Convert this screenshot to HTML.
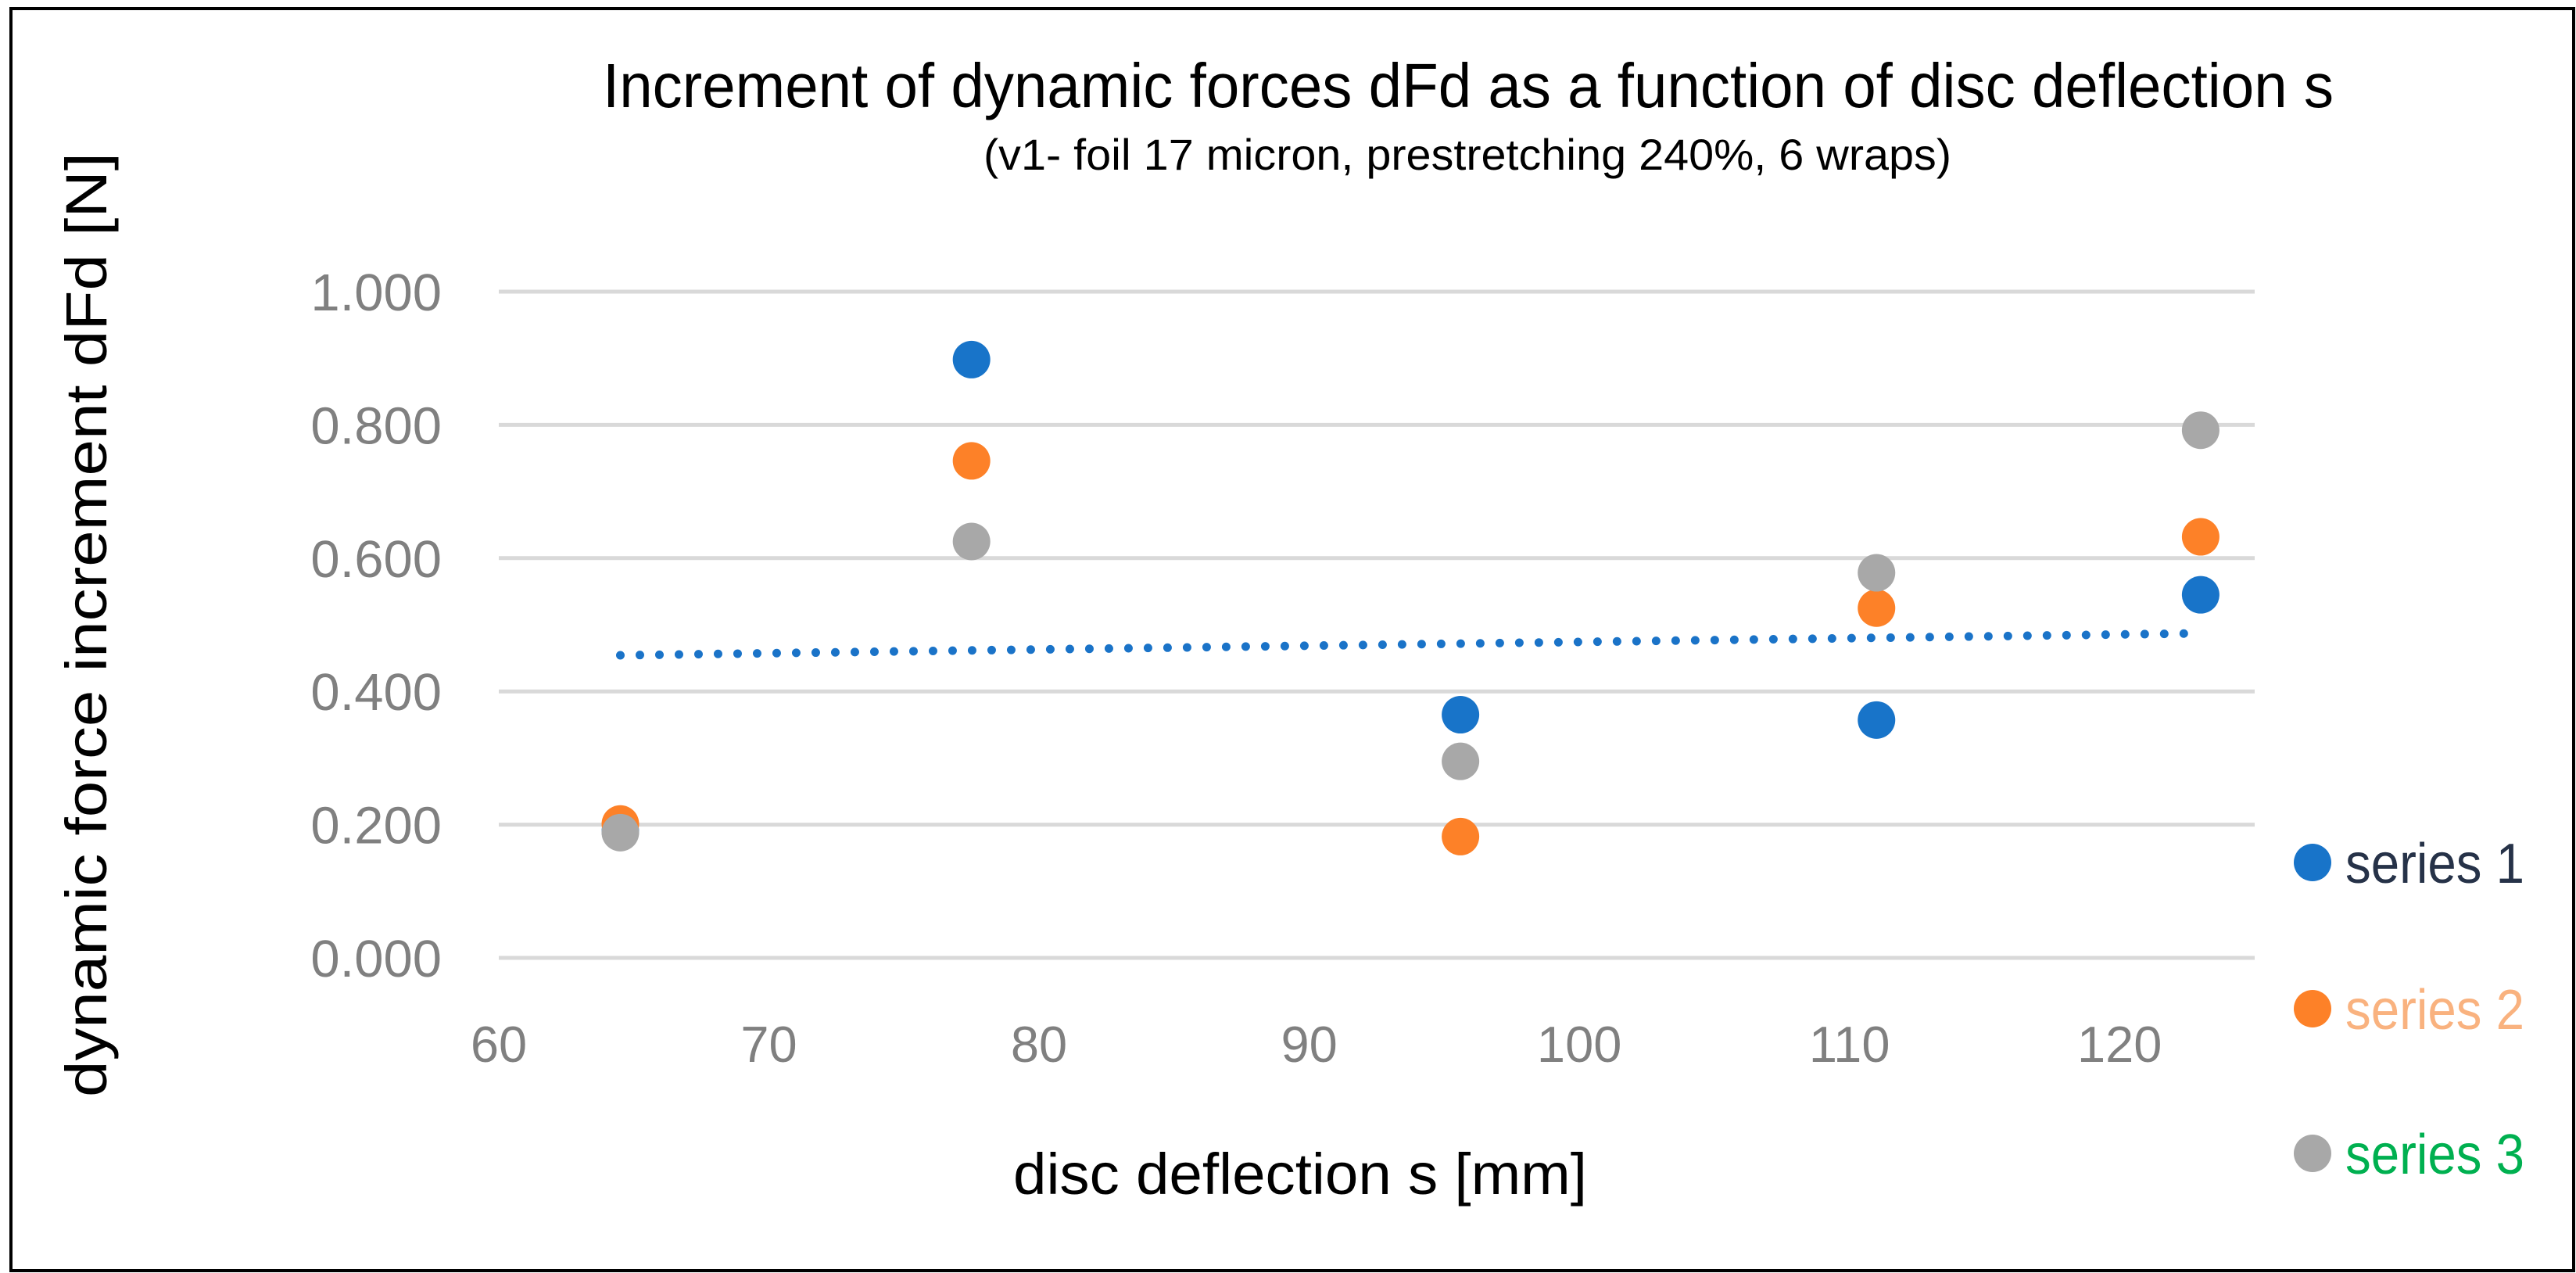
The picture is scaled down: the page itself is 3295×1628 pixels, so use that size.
<!DOCTYPE html>
<html><head><meta charset="utf-8"><style>
html,body{margin:0;padding:0;background:#fff;}
svg{display:block;}
text{font-family:"Liberation Sans",sans-serif;}
</style></head><body>
<svg id="chart" width="3295" height="1628" viewBox="0 0 3295 1628" xmlns="http://www.w3.org/2000/svg">
<rect x="14" y="11" width="3278" height="1614" fill="#fff" stroke="#000" stroke-width="4"/>
<text x="1878" y="137" font-size="80" text-anchor="middle" textLength="2214" lengthAdjust="spacingAndGlyphs" fill="#000">Increment of dynamic forces dFd as a function of disc deflection s</text>
<text x="1877" y="217" font-size="56" text-anchor="middle" textLength="1238" lengthAdjust="spacingAndGlyphs" fill="#000">(v1- foil 17 micron, prestretching 240%, 6 wraps)</text>
<g id="grid"></g>
<g id="yticks"></g>
<g id="xticks"></g>
<g id="trend"></g>
<g id="marks"></g>
<text x="1663" y="1527" font-size="74" text-anchor="middle" textLength="734" lengthAdjust="spacingAndGlyphs" fill="#000">disc deflection s [mm]</text>
<text transform="translate(136,799) rotate(-90)" x="0" y="0" font-size="74" text-anchor="middle" textLength="1208" lengthAdjust="spacingAndGlyphs" fill="#000">dynamic force increment dFd [N]</text>
<g id="legend"></g>
</svg>
<script>
const xValues = [64.5, 77.5, 95.6, 111, 123];
const series1 = [0.19, 0.898, 0.365, 0.357, 0.545];
const series2 = [0.201, 0.746, 0.182, 0.525, 0.632];
const series3 = [0.188, 0.625, 0.295, 0.578, 0.792];
const seriesNames = ["series 1", "series 2", "series 3"];
const yTickLabels = ["0.000", "0.200", "0.400", "0.600", "0.800", "1.000"];
const yTickValues = [0, 0.2, 0.4, 0.6, 0.8, 1.0];
const xTickValues = [60, 70, 80, 90, 100, 110, 120];

const NS = "http://www.w3.org/2000/svg";
const X0 = 638, X1 = 2884, XMIN = 60, XMAX = 125;
const Y0 = 1225, Y1 = 373, YMIN = 0, YMAX = 1;
function xs(v){ return X0 + (v - XMIN) / (XMAX - XMIN) * (X1 - X0); }
function ys(v){ return Y0 - (v - YMIN) / (YMAX - YMIN) * (Y0 - Y1); }
function mk(tag, attrs, parent){
  const e = document.createElementNS(NS, tag);
  for (const k in attrs) e.setAttribute(k, attrs[k]);
  parent.appendChild(e); return e;
}
const grid = document.getElementById('grid');
const yt = document.getElementById('yticks');
yTickValues.forEach((v, i) => {
  const l = mk('line', {x1: X0, x2: X1, y1: ys(v), y2: ys(v), stroke: '#d9d9d9', 'stroke-width': 5}, grid);
  
  
  const t = mk('text', {x: 565, y: ys(v) + 24, 'font-size': 67, 'text-anchor': 'end', fill: '#808080'}, yt);
  t.textContent = yTickLabels[i];
  
  
});
const xt = document.getElementById('xticks');
xTickValues.forEach(v => {
  const t = mk('text', {x: xs(v), y: 1358, 'font-size': 65, 'text-anchor': 'middle', fill: '#808080'}, xt);
  t.textContent = String(v);
  
  
});
// linear trendline for series 1
const n = xValues.length;
const mx = xValues.reduce((a,b)=>a+b,0)/n, my = series1.reduce((a,b)=>a+b,0)/n;
let sxy = 0, sxx = 0;
for (let i=0;i<n;i++){ sxy += (xValues[i]-mx)*(series1[i]-my); sxx += (xValues[i]-mx)**2; }
const slope = sxy/sxx, icpt = my - slope*mx;
const xa = Math.min(...xValues), xb = Math.max(...xValues) - 0.3;
const tr = mk('line', {x1: xs(xa), y1: ys(icpt+slope*xa), x2: xs(xb), y2: ys(icpt+slope*xb), stroke: '#1a73c8', 'stroke-width': 11, 'stroke-linecap': 'round', 'stroke-dasharray': '0 25'}, document.getElementById('trend'));



const colors = ['#1874c9', '#fd8128', '#a8a8a8'];
const textColors = ['#263248', '#f9b27f', '#00b050'];
const allSeries = [series1, series2, series3];
const marks = document.getElementById('marks');
allSeries.forEach((s, si) => {
  s.forEach((v, i) => {
    const c = mk('circle', {cx: xs(xValues[i]), cy: ys(v), r: 24, fill: colors[si]}, marks);
    
    
  });
});
const legend = document.getElementById('legend');
const legY = [1103, 1290, 1475];
seriesNames.forEach((nm, i) => {
  const g = mk('g', {}, legend);
  
  
  mk('circle', {cx: 2958, cy: legY[i], r: 24, fill: colors[i]}, g);
  const t = mk('text', {x: 3000, y: legY[i] + 26, 'font-size': 72, fill: textColors[i], textLength: 229, lengthAdjust: 'spacingAndGlyphs'}, g);
  t.textContent = nm;
});
</script>
</body></html>
